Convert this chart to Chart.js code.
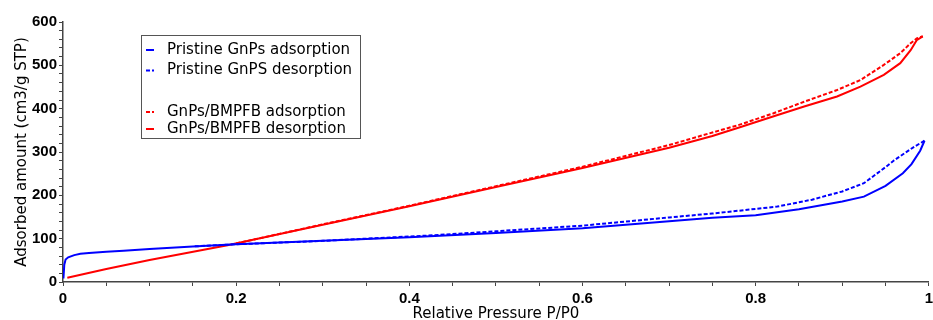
<!DOCTYPE html>
<html>
<head>
<meta charset="utf-8">
<script src="https://cdn.jsdelivr.net/npm/chart.js@4/dist/chart.umd.min.js"></script>
<style>
  html, body { margin: 0; padding: 0; background: #fff; overflow: hidden; }
  #wrap { width: 937px; height: 320px; }
</style>
</head>
<body>
<div id="wrap"><canvas id="c" width="937" height="320"></canvas></div>
<script>
// ---- data ----
const seriesLabels = [
  'Pristine GnPs adsorption',
  'Pristine GnPS desorption',
  'GnPs/BMPFB adsorption',
  'GnPs/BMPFB desorption'
];

// Pristine GnPs, solid blue (lower branch)
const pristineAdsP = [0.0005, 0.0015, 0.003, 0.006, 0.013, 0.02, 0.03, 0.05, 0.07, 0.1, 0.15, 0.2, 0.3, 0.4, 0.5, 0.6, 0.7, 0.75, 0.8, 0.85, 0.9, 0.925, 0.95, 0.97, 0.98, 0.99, 0.995];
const pristineAdsV = [8, 40, 52, 57, 62, 65, 67, 70, 72, 76, 82, 87, 95, 103, 113, 124, 140, 148, 154, 168, 186, 197, 222, 251, 272, 303, 326];

// Pristine GnPS, dashed blue (upper branch)
const pristineDesP = [0.995, 0.983, 0.96, 0.95, 0.925, 0.9, 0.865, 0.825, 0.75, 0.7, 0.6, 0.5, 0.42, 0.35, 0.3, 0.2, 0.15];
const pristineDesV = [326, 312, 281, 265, 228, 209, 190, 174, 158, 149, 130, 117, 107, 100, 95, 87, 82];

// GnPs/BMPFB, dashed red (upper branch)
const bmpfbAdsP = [0.2, 0.3, 0.4, 0.5, 0.6, 0.7, 0.75, 0.78, 0.82, 0.856, 0.894, 0.921, 0.948, 0.967, 0.979, 0.986, 0.993];
const bmpfbAdsV = [89, 133, 176, 221, 266, 316, 345, 362, 389, 416, 443, 466, 501, 528, 551, 562, 567];

// GnPs/BMPFB, solid red (lower branch)
const bmpfbDesP = [0.005, 0.05, 0.1, 0.19, 0.3, 0.4, 0.5, 0.6, 0.7, 0.75, 0.78, 0.82, 0.856, 0.894, 0.921, 0.948, 0.967, 0.979, 0.986, 0.993];
const bmpfbDesV = [10, 30, 51, 85, 132, 175, 219, 263, 310, 337, 356, 382, 405, 428, 451, 478, 505, 535, 558, 567];

const xTickLabels = ['0', '0.2', '0.4', '0.6', '0.8', '1'];
const yTickLabels = ['0', '100', '200', '300', '400', '500', '600'];

// ---- build chart ----
function pts(xs, ys) { return xs.map((x, i) => ({ x: x, y: ys[i] })); }

const BLUE = '#0000ff', RED = '#ff0000';
const DASH = [4, 2];

const datasets = [
  { label: seriesLabels[0], data: pts(pristineAdsP, pristineAdsV), borderColor: BLUE, borderDash: [] },
  { label: seriesLabels[1], data: pts(pristineDesP, pristineDesV), borderColor: BLUE, borderDash: DASH },
  { label: seriesLabels[2], data: pts(bmpfbAdsP, bmpfbAdsV), borderColor: RED, borderDash: DASH },
  { label: seriesLabels[3], data: pts(bmpfbDesP, bmpfbDesV), borderColor: RED, borderDash: [] }
].map(d => Object.assign(d, {
  showLine: true, pointRadius: 0, borderWidth: 2, tension: 0, fill: false
}));

const boxLegend = {
  id: 'boxLegend',
  afterDraw(chart, args, o) {
    const ctx = chart.ctx;
    ctx.save();
    ctx.fillStyle = '#fff';
    ctx.fillRect(o.x, o.y, o.w, o.h);
    ctx.strokeStyle = '#555';
    ctx.lineWidth = 1;
    ctx.strokeRect(o.x + 0.5, o.y + 0.5, o.w, o.h);
    ctx.font = o.font;
    ctx.textBaseline = 'middle';
    ctx.fillStyle = '#000';
    chart.data.datasets.forEach((ds, i) => {
      const y = o.rows[i];
      ctx.strokeStyle = ds.borderColor;
      ctx.lineWidth = 2;
      ctx.setLineDash(ds.borderDash || []);
      ctx.beginPath();
      ctx.moveTo(o.x + o.sx0, y);
      ctx.lineTo(o.x + o.sx1, y);
      ctx.stroke();
      ctx.setLineDash([]);
      ctx.fillText(ds.label, o.x + o.tx, y);
    });
    ctx.restore();
  }
};

const tickFont = { family: '"Liberation Sans", Arial, sans-serif', size: 15, weight: 'bold' };
const titleFont = { family: 'DejaVu Sans', size: 15, weight: 'normal' };

new Chart(document.getElementById('c'), {
  type: 'scatter',
  data: { datasets: datasets },
  plugins: [boxLegend],
  options: {
    responsive: false,
    animation: false,
    devicePixelRatio: 1,
    layout: { padding: { top: 22, left: 0, right: 0, bottom: 0 } },
    plugins: {
      legend: { display: false },
      tooltip: { enabled: false },
      boxLegend: {
        x: 141, y: 35, w: 219, h: 103,
        sx0: 5, sx1: 13, tx: 26,
        rows: [50, 70.5, 112, 129],
        font: '15px "DejaVu Sans"'
      }
    },
    scales: {
      x: {
        type: 'linear', min: 0, max: 1,
        afterFit: s => { s.height = 38; },
        ticks: {
          stepSize: 0.05, autoSkip: false, maxRotation: 0, padding: 4,
          color: '#000', font: tickFont,
          callback: v => {
            const r = Math.round(v * 100);
            return r % 20 === 0 ? xTickLabels[r / 20] : '';
          }
        },
        grid: { display: true, drawOnChartArea: false, drawTicks: true, tickLength: 4, color: '#444', lineWidth: 1 },
        border: { display: true, color: '#444', width: 1.5 },
        title: { display: true, text: 'Relative Pressure P/P0', color: '#000',
                 font: Object.assign({ lineHeight: 0.8 }, titleFont), padding: { top: 0, bottom: 0 } }
      },
      y: {
        type: 'linear', min: 0, max: 600,
        afterFit: s => { s.width = 63; },
        ticks: {
          stepSize: 20, autoSkip: false, padding: 2,
          color: '#000', font: tickFont,
          callback: v => {
            const r = Math.round(v);
            return r % 100 === 0 ? yTickLabels[r / 100] : '';
          }
        },
        grid: { display: true, drawOnChartArea: false, drawTicks: true, tickLength: 4, color: '#444', lineWidth: 1 },
        border: { display: true, color: '#444', width: 1.5 },
        title: { display: true, text: 'Adsorbed amount (cm3/g STP)', color: '#000',
                 font: titleFont, padding: { top: 13, bottom: 0 } }
      }
    }
  }
});
</script>
</body>
</html>
